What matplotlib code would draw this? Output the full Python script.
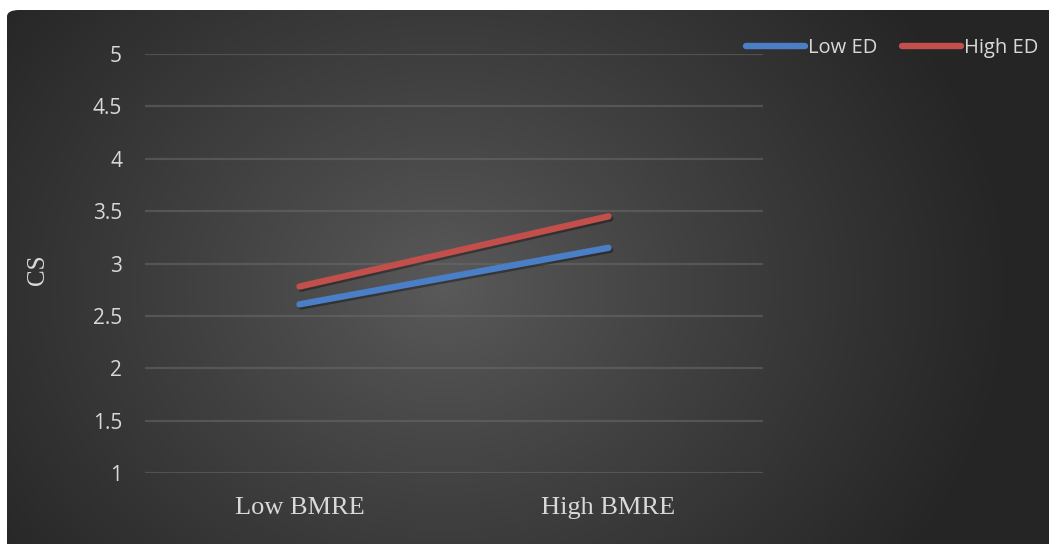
import numpy as np
import matplotlib
matplotlib.use("Agg")
import matplotlib.pyplot as plt
import matplotlib.patheffects as pe
from matplotlib.patches import FancyBboxPatch

# Data
categories = ["Low BMRE", "High BMRE"]
series_names = ["Low ED", "High ED"]
low_ed = [2.61, 3.15]
high_ed = [2.78, 3.45]
y_ticks = [1, 1.5, 2, 2.5, 3, 3.5, 4, 4.5, 5]
y_tick_labels = ["1", "1.5", "2", "2.5", "3", "3.5", "4", "4.5", "5"]

W, H, DPI = 1049, 544, 100
fig = plt.figure(figsize=(W / DPI, H / DPI), dpi=DPI)
fig.patch.set_facecolor("white")

# Dark panel with a radial gradient
bg = fig.add_axes([7 / W, 0, (W - 7) / W, (H - 10) / H])
bg.set_axis_off()
nx, ny = 600, 320
xx, yy = np.meshgrid(np.linspace(0, 1, nx), np.linspace(0, 1, ny))
cx, cy = 0.42, 0.52
r = np.sqrt(((xx - cx) * 1.55) ** 2 + ((yy - cy) * 0.95) ** 2)
r = np.clip(r / 0.85, 0, 1)
inner, outer = 0x5a / 255, 0x25 / 255
val = inner + (outer - inner) * r ** 0.9
img = np.dstack([val, val, val])
im = bg.imshow(img, extent=[0, 1, 0, 1], aspect="auto", origin="upper",
               interpolation="bilinear")
bg.set_xlim(0, 1)
bg.set_ylim(0, 1)
# only the top-left corner stays rounded; the others run past the edges
clip = FancyBboxPatch((0, -0.1), 1.1, 1.1, boxstyle="round,pad=0,rounding_size=0.012",
                      transform=bg.transAxes, facecolor="none", edgecolor="none")
bg.add_patch(clip)
im.set_clip_path(clip)

# Main plot axes
ax = fig.add_axes([145 / W, (H - 473) / H, (763 - 145) / W, (473 - 54) / H])
ax.set_facecolor("none")
x = np.arange(len(categories))

shadow = [pe.SimpleLineShadow(offset=(1.2, -1.5), shadow_color="black", alpha=0.35),
          pe.Normal()]
ax.plot(x, low_ed, color="#4a7ec6", lw=4.6, solid_capstyle="round",
        label=series_names[0], path_effects=shadow, zorder=3)
ax.plot(x, high_ed, color="#c24f4c", lw=4.6, solid_capstyle="round",
        label=series_names[1], path_effects=shadow, zorder=3)

ax.set_xlim(-0.5, 1.5)
ax.set_ylim(1, 5)
ax.set_yticks(y_ticks)
ax.set_yticklabels(y_tick_labels)
ax.set_xticks(x)
ax.set_xticklabels(categories)
for s in ax.spines.values():
    s.set_visible(False)
ax.grid(axis="y", color="#6a6a6a", lw=1.6, alpha=0.55, zorder=1)
ax.tick_params(axis="both", length=0)
ax.tick_params(axis="y", pad=16.5, labelcolor="#d9d9d9", labelsize=15)
ax.tick_params(axis="x", pad=17, labelcolor="#d9d9d9", labelsize=19)
for t in ax.get_yticklabels():
    t.set_fontfamily("Open Sans")
for t in ax.get_xticklabels():
    t.set_fontfamily("Liberation Serif")

fig.text(38 / W, 1 - 270 / H, "CS", rotation=90, ha="center", va="center",
         color="#d9d9d9", fontsize=18, family="Liberation Serif")

leg = fig.legend(loc="center right", bbox_to_anchor=(1038 / W, 1 - 48 / H),
                 ncol=2, frameon=False, handlelength=2.9, handletextpad=0.15,
                 columnspacing=1.25, borderaxespad=0, borderpad=0,
                 prop={"family": "Open Sans", "size": 14.5})
for t in leg.get_texts():
    t.set_color("#d9d9d9")
for h in leg.legend_handles:
    h.set_path_effects([])

fig.savefig("out.png", dpi=DPI)
